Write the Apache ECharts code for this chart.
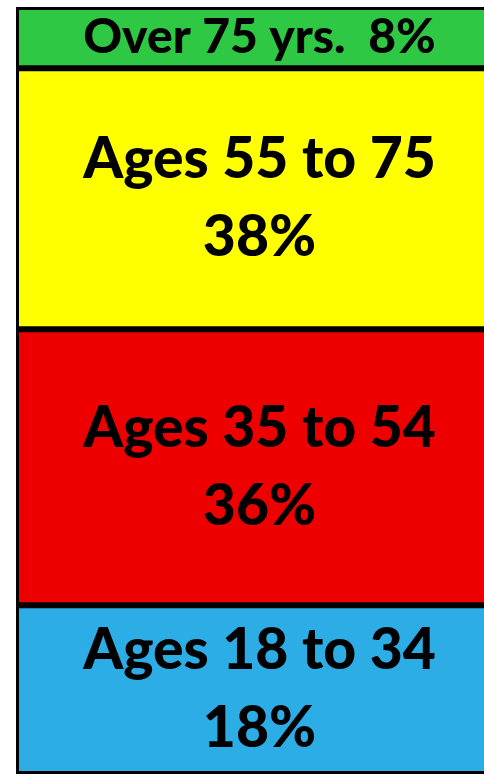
<!DOCTYPE html>
<html>
<head>
<meta charset="utf-8">
<script src="https://cdn.jsdelivr.net/npm/echarts@6/dist/echarts.min.js"></script>
<style>
  html, body { margin: 0; padding: 0; background: #fff; overflow: hidden; }
  #chart { width: 520px; height: 776px; }
</style>
</head>
<body>
<div id="chart"></div>
<script>
// segments from bottom to top
const groups = ['Ages 18 to 34', 'Ages 35 to 54', 'Ages 55 to 75', 'Over 75 yrs.'];
const shares = [22, 36, 34, 8];          // heights as drawn
const shareLabels = ['18%', '36%', '38%', '8%'];  // printed on the bars
const colors = ['#2cade6', '#ee0000', '#ffff00', '#2ec845'];

const chart = echarts.init(document.getElementById('chart'));

const series = groups.map((name, i) => {
  const last = i === groups.length - 1;
  return {
    name: name,
    type: 'bar',
    stack: 'all',
    barWidth: '100%',
    data: [shares[i]],
    itemStyle: {
      color: colors[i],
      borderColor: '#000',
      borderWidth: 3
    },
    label: {
      show: true,
      position: 'inside',
      color: '#000',
      fontFamily: 'Lato',
      fontWeight: 900,
      fontSize: last ? 48 : 57,
      lineHeight: 78,
      formatter: last ? name + '  ' + shareLabels[i] : name + '\n' + shareLabels[i]
    }
  };
});

const option = {
  animation: false,
  grid: {
    left: 16, right: 17, top: 7, bottom: 2,
    show: true, backgroundColor: '#000', borderWidth: 0
  },
  xAxis: {
    type: 'category',
    data: ['all'],
    show: false
  },
  yAxis: {
    type: 'value',
    min: 0,
    max: 100,
    show: false
  },
  series: series
};
chart.setOption(option);
</script>
</body>
</html>
